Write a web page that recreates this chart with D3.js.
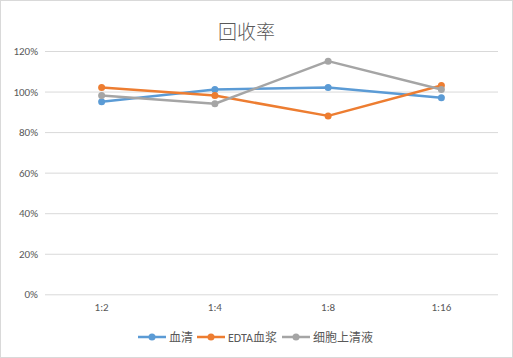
<!DOCTYPE html>
<html><head><meta charset="utf-8">
<script src="https://cdn.jsdelivr.net/npm/d3@7"></script>
<style>body{margin:0;background:#fff}svg{display:block}</style>
</head><body>
<svg id="c" width="513" height="358"></svg>
<script>
const categories = ["1:2","1:4","1:8","1:16"];
const seriesNames = ["血清","EDTA血浆","细胞上清液"];
const serum = [95, 101, 102, 97];
const edta = [102, 98, 88, 103];
const cellSup = [98, 94, 115, 101];
const yTicks = [0, 20, 40, 60, 80, 100, 120];
const colors = ["#5b9bd5","#ed7d31","#a5a5a5"];
const title = "回收率";

const series = [serum, edta, cellSup];
const svg = d3.select("#c");
const W = 513, H = 358;
svg.append("rect").attr("x",0.5).attr("y",0.5).attr("width",W-1).attr("height",H-1)
  .attr("fill","#fff").attr("stroke","#d9d9d9");

const m = {l:45, r:498, t:51, b:294.3};
const x = d3.scaleBand().domain(categories).range([m.l, m.r]);
const y = d3.scaleLinear().domain([0,120]).range([m.b, m.t]);
const font = "Calibri, Carlito, 'Liberation Sans', 'Noto Sans CJK SC', sans-serif";

svg.append("text").attr("x",246.5).attr("y",38.5).attr("text-anchor","middle")
  .attr("font-family","'Noto Sans CJK SC', sans-serif").attr("font-size",19).attr("font-weight",300)
  .attr("fill","#595959").text(title);

const gy = svg.append("g").attr("transform",`translate(${m.l},0)`)
  .call(d3.axisLeft(y).tickValues(yTicks).tickSize(-(m.r-m.l)).tickFormat(d=>d+"%"));
gy.select(".domain").remove();
gy.selectAll(".tick line").attr("stroke","#d9d9d9");
gy.selectAll(".tick text").attr("x",-7).attr("fill","#595959").attr("font-size",11).attr("font-family",font);

const gx = svg.append("g").attr("transform",`translate(0,${m.b})`)
  .call(d3.axisBottom(x).tickSize(0).tickPadding(9));
gx.select(".domain").remove();
gx.selectAll(".tick text").attr("fill","#595959").attr("font-size",11).attr("font-family",font);

const line = d3.line().x((d,i)=>x(categories[i])+x.bandwidth()/2).y(d=>y(d));
series.forEach((s,k)=>{
  svg.append("path").datum(s).attr("d",line).attr("fill","none")
    .attr("stroke",colors[k]).attr("stroke-width",2.5).attr("stroke-linejoin","round").attr("stroke-linecap","round");
  svg.selectAll(null).data(s).enter().append("circle")
    .attr("cx",(d,i)=>x(categories[i])+x.bandwidth()/2).attr("cy",d=>y(d)).attr("r",3.5).attr("fill",colors[k]);
});

const legX = [138, 197, 282];
const ly = 337;
seriesNames.forEach((n,k)=>{
  const g = svg.append("g");
  g.append("line").attr("x1",legX[k]).attr("x2",legX[k]+28).attr("y1",ly).attr("y2",ly)
    .attr("stroke",colors[k]).attr("stroke-width",2.5);
  g.append("circle").attr("cx",legX[k]+14).attr("cy",ly).attr("r",3.5).attr("fill",colors[k]);
  g.append("text").attr("x",legX[k]+31).attr("y",ly+4.5).attr("font-size",12)
    .attr("font-family",font).attr("fill","#595959").text(n);
});
</script>
</body></html>
